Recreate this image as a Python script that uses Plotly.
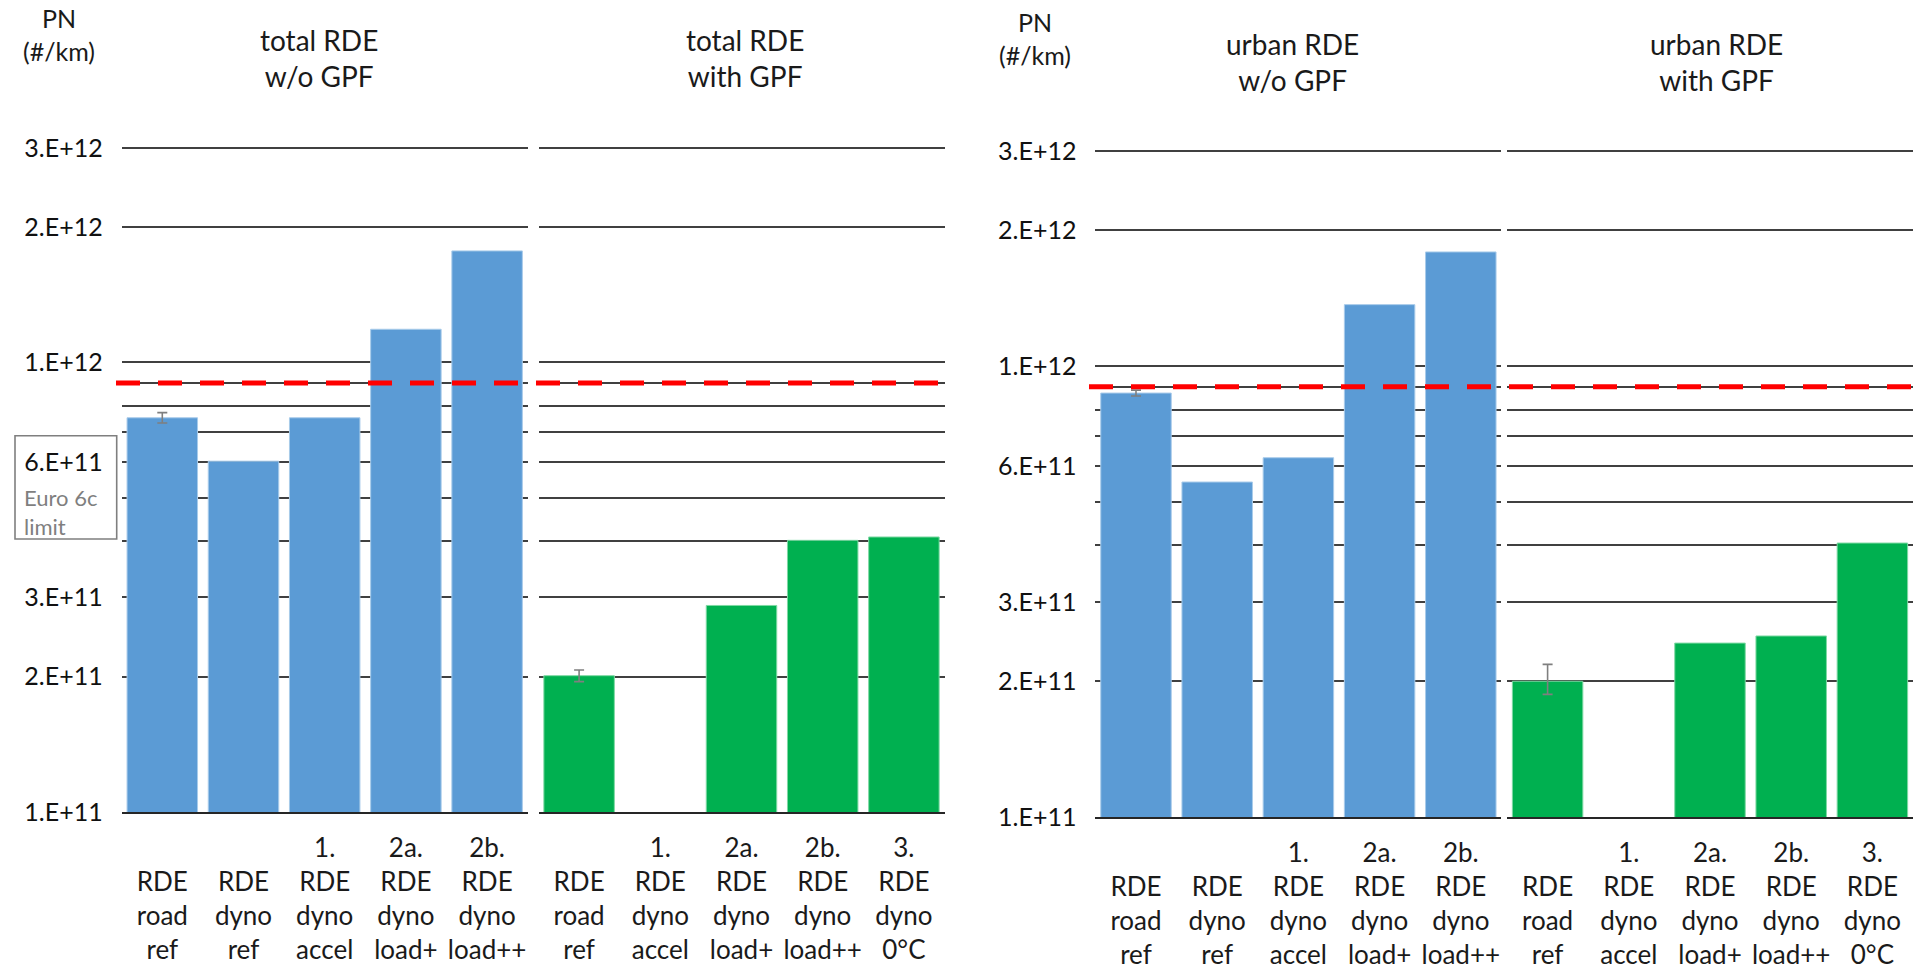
import plotly.graph_objects as go

# Test cycles, grouped by after-treatment configuration
CYCLES_NO_GPF = ["RDE road ref", "RDE dyno ref", "1. RDE dyno accel",
                 "2a. RDE dyno load+", "2b. RDE dyno load++"]
CYCLES_GPF = ["RDE road ref", "1. RDE dyno accel", "2a. RDE dyno load+",
              "2b. RDE dyno load++", "3. RDE dyno 0°C"]

# Particle number emissions (#/km)
TOTAL_NO_GPF = [7.53e11, 6.03e11, 7.53e11, 1.185e12, 1.77e12]
TOTAL_GPF = [2.01e11, None, 2.88e11, 4.02e11, 4.09e11]
URBAN_NO_GPF = [8.71e11, 5.53e11, 6.26e11, 1.368e12, 1.79e12]
URBAN_GPF = [2.00e11, None, 2.43e11, 2.52e11, 4.05e11]

# Spread of the repeated road tests (RDE road ref), upper / lower
TOTAL_NO_GPF_ERR = (2.0e10, 2.0e10)
TOTAL_GPF_ERR = (6.0e9, 6.0e9)
URBAN_NO_GPF_ERR = (1.3e10, 1.3e10)
URBAN_GPF_ERR = (1.8e10, 1.3e10)

# Euro 6c PN limit including conformity factor
PN_LIMIT = 9e11

Y_TICKS = [1e11, 2e11, 3e11, 4e11, 5e11, 6e11, 7e11, 8e11, 9e11, 1e12, 2e12, 3e12]
Y_TICK_TEXT = ["1.E+11", "2.E+11", "3.E+11", "", "", "6.E+11", "", "", "",
               "1.E+12", "2.E+12", "3.E+12"]

BLUE = "#5B9BD5"
GREEN = "#00B050"
FONT = "Lato"
W, H = 1926, 969


def tick_label(name):
    words = name.split()
    if words[0].endswith("."):
        lines = words
    else:
        lines = ["\u00a0"] + words
    return "<br>".join(lines)


fig = go.Figure()

panels = [
    ("x", "y", CYCLES_NO_GPF, TOTAL_NO_GPF, BLUE, TOTAL_NO_GPF_ERR),
    ("x2", "y", CYCLES_GPF, TOTAL_GPF, GREEN, TOTAL_GPF_ERR),
    ("x3", "y2", CYCLES_NO_GPF, URBAN_NO_GPF, BLUE, URBAN_NO_GPF_ERR),
    ("x4", "y2", CYCLES_GPF, URBAN_GPF, GREEN, URBAN_GPF_ERR),
]
for xa, ya, cats, vals, color, (e_up, e_down) in panels:
    labels = [tick_label(c) for c in cats]
    edge = "#A8CBEA" if color == BLUE else "#7FD9A4"
    fig.add_trace(go.Bar(
        x=labels, y=vals, xaxis=xa, yaxis=ya,
        marker=dict(color=color, line=dict(color=edge, width=1)),
        showlegend=False, hoverinfo="x+y",
    ))
    # error bar on the road reference bar
    fig.add_trace(go.Scatter(
        x=[labels[0]], y=[vals[0]], xaxis=xa, yaxis=ya, mode="markers",
        marker=dict(size=1, opacity=0),
        error_y=dict(type="data", symmetric=False, array=[e_up],
                     arrayminus=[e_down], visible=True, color="#7F7F7F",
                     thickness=1.6, width=5),
        showlegend=False, hoverinfo="skip",
    ))

x_domains = {
    "xaxis": ([121.7 / W, 527.7 / W], "y"),
    "xaxis2": ([538.5 / W, 944.5 / W], "y"),
    "xaxis3": ([1095.4 / W, 1501.4 / W], "y2"),
    "xaxis4": ([1507.0 / W, 1913.0 / W], "y2"),
}
for name, (dom, anchor) in x_domains.items():
    fig.layout[name] = dict(
        domain=dom, anchor=anchor, type="category",
        showgrid=False, zeroline=False, showline=True,
        linecolor="#262626", linewidth=2, ticks="", tickangle=0,
        tickfont=dict(family=FONT, size=26, color="#1a1a1a"),
        ticklabelstandoff=12, automargin=False,
    )

y_common = dict(
    type="log", range=[11, 12.5], tickmode="array",
    tickvals=Y_TICKS, ticktext=Y_TICK_TEXT,
    showgrid=True, gridcolor="#404040", gridwidth=1.6,
    zeroline=False, showline=False, ticks="",
    tickfont=dict(family=FONT, size=25, color="#111111"),
    ticklabelstandoff=18, automargin=False,
)
fig.layout.yaxis = dict(domain=[(H - 812) / H, (H - 137.6) / H], anchor="x", **y_common)
fig.layout.yaxis2 = dict(domain=[(H - 817) / H, (H - 140.5) / H], anchor="x3", **y_common)

# limit lines
for x0, x1, yref in [(116, 944, "y"), (1089, 1916, "y2")]:
    fig.add_shape(type="line", xref="paper", yref=yref,
                  x0=x0 / W, x1=x1 / W, y0=PN_LIMIT, y1=PN_LIMIT,
                  line=dict(color="#FF0000", width=5, dash="24px,18px"),
                  layer="above")

# box around the limit label
fig.add_shape(type="rect", xref="paper", yref="paper",
              x0=15 / W, x1=116.7 / W, y0=(H - 539) / H, y1=(H - 435.7) / H,
              line=dict(color="#7F7F7F", width=1.6), layer="above")


def ann(text, x, y, size, color="#1a1a1a", xanchor="center", align="center"):
    fig.add_annotation(text=text, xref="paper", yref="paper",
                       x=x / W, y=1 - y / H, xanchor=xanchor, yanchor="middle",
                       align=align, showarrow=False,
                       font=dict(family=FONT, size=size, color=color))


ann("Euro 6c<br>limit", 22, 512, 22, color="#7F7F7F", xanchor="left", align="left")
ann("PN<br>(#/km)", 59, 34.5, 25)
ann("PN<br>(#/km)", 1035, 38.5, 25)
ann("total RDE<br>w/o GPF", 319.4, 58.4, 28)
ann("total RDE<br>with GPF", 745, 58.4, 28)
ann("urban RDE<br>w/o GPF", 1292, 62, 28)
ann("urban RDE<br>with GPF", 1716, 62, 28)

fig.update_layout(
    width=W, height=H, margin=dict(l=0, r=0, t=0, b=0),
    paper_bgcolor="white", plot_bgcolor="white",
    bargap=0.132, showlegend=False,
    font=dict(family=FONT, color="#1a1a1a"),
)

fig.write_html("out.html")
